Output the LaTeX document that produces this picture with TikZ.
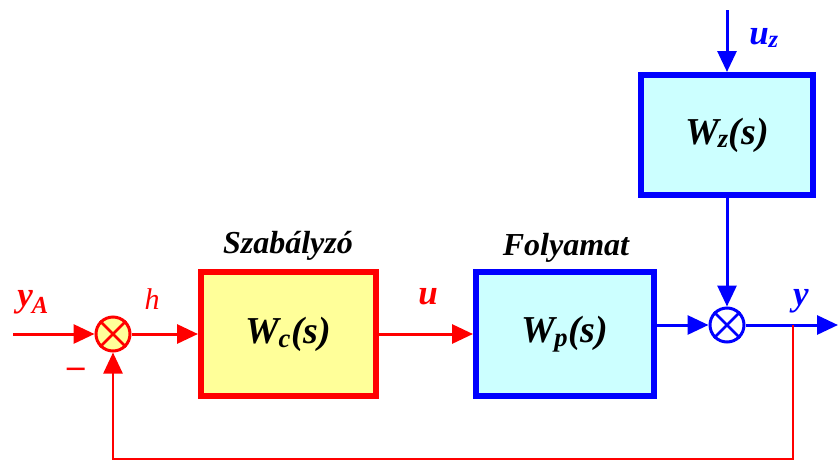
\documentclass[tikz,border=0pt]{standalone}
\usepackage{fontspec}
\setmainfont{Liberation Serif}
\usetikzlibrary{arrows.meta}
\definecolor{myred}{HTML}{FF0000}
\definecolor{myblue}{HTML}{0000FF}
\definecolor{myyellow}{HTML}{FFFF99}
\definecolor{mycyan}{HTML}{CCFFFF}
\tikzset{
  blockbox/.style={draw, line width=6pt, minimum width=#1, minimum height=124pt, inner sep=0pt,
    font=\fontsize{38}{42}\selectfont\bfseries\itshape},
  sumnode/.style={circle, draw, line width=3pt, minimum size=34pt, inner sep=0pt},
  redline/.style={draw=myred, line width=3pt},
  blueline/.style={draw=myblue, line width=3pt},
  arr/.style={-{Triangle[length=21pt,width=19pt]}},
  lab/.style={font=\fontsize{35}{38}\selectfont\bfseries\itshape},
  title/.style={font=\fontsize{32}{36}\selectfont\bfseries\itshape},
}
\newcommand{\crossout}[2]{%
  \draw[#2, line width=2.5pt] (#1.north east) -- (#1.south west) (#1.north west) -- (#1.south east);}
\begin{document}
\begin{tikzpicture}[x=1pt,y=-1pt]
\useasboundingbox (0,0) rectangle (838,461);
% blocks
\node[blockbox=175pt, draw=myred, fill=myyellow] (wc) at (288.5,334) {W\kern-1pt\textsubscript{c}(s)};
\node[blockbox=178pt, draw=myblue, fill=mycyan] (wp) at (565,334) {W\kern-1pt\textsubscript{p}(s)};
\node[blockbox=172pt, minimum height=120pt, draw=myblue, fill=mycyan] (wz) at (727,135) {W\kern-1pt\textsubscript{z}(s)};
\node[title] (tc) at (288,246) {Szabályzó};
\node[title] (tp) at (566,248) {Folyamat};
% sums
\node[sumnode, draw=myred, fill=myyellow] (s1) at (113,334) {};
\crossout{s1}{myred}
\node[sumnode, draw=myblue, fill=white] (s2) at (727,325) {};
\crossout{s2}{myblue}
% coordinates
\coordinate (in) at (13,334);
\coordinate (uzin) at (727,10);
\coordinate (out) at (838,325);
\coordinate (fb) at (793,325);
\coordinate (bl) at (113,459);
% connectors
\draw[redline, arr] (in) -- (s1);
\draw[redline, arr] (s1) -- (wc);
\draw[redline, arr] (wc) -- (wp);
\draw[blueline, arr] (wp.east |- s2) -- (s2);
\draw[blueline, arr] (uzin) -- (wz);
\draw[blueline, arr] (wz) -- (s2);
\draw[blueline, arr] (s2) -- (out);
\draw[redline, line width=2.5pt, arr] (fb) |- (bl) -- (s1);
% labels
\node[lab, text=myred] (lya) at (33,302) {y\textsubscript{\kern-1ptA}};
\node[font=\fontsize{30}{34}\selectfont\itshape, text=myred] (lh) at (152,299) {h};
\node[lab, text=myred] (lm) at (76,373) {–};
\node[lab, text=myred] (lu) at (428,297) {u};
\node[lab, text=myblue] (ly) at (801,301) {y};
\node[lab, text=myblue] (luz) at (764,38) {u\textsubscript{z}};
\end{tikzpicture}
\end{document}
